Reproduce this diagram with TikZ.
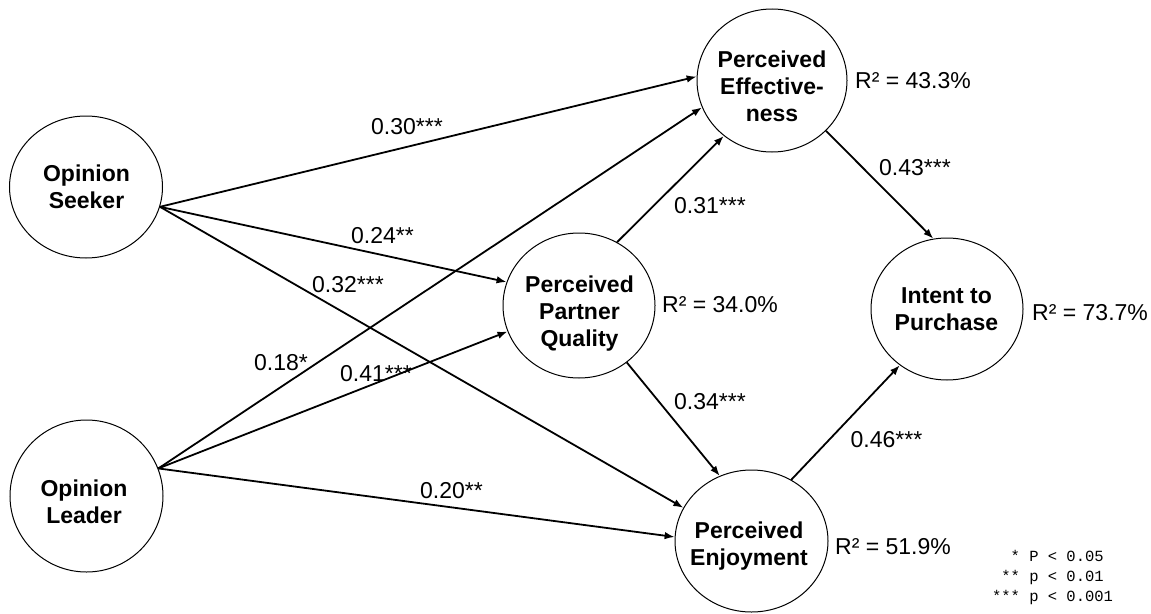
\documentclass[tikz,border=0pt]{standalone}
\usepackage{fontspec}
\setmainfont{Liberation Sans}
\setmonofont{Liberation Mono}
\usetikzlibrary{shapes.geometric,arrows.meta}
\begin{document}
\begin{tikzpicture}[x=1pt,y=-1pt,
  construct/.style={draw=black, line width=1pt, ellipse, inner sep=0pt},
  nodetext/.style={align=center, font=\fontsize{23}{27}\selectfont\bfseries, inner sep=0pt},
  coef/.style={font=\fontsize{23}{27}\selectfont, inner sep=0pt},
  rsq/.style={font=\fontsize{23}{27}\selectfont, inner sep=0pt, anchor=west},
  link/.style={line width=1.8pt, -{Latex[length=10pt,width=7.5pt]}},
  legendtext/.style={font=\fontsize{15.5}{20}\selectfont\ttfamily, align=left, inner sep=0pt}
]
\useasboundingbox (0,0) rectangle (1151,613);

% constructs
\node[construct, minimum width=153pt, minimum height=142pt] (seeker) at (86,187) {};
\node[nodetext] (seekerT) at (86.5,187) {Opinion\\Seeker};
\node[construct, minimum width=153pt, minimum height=152pt] (leader) at (86.5,496) {};
\node[nodetext] (leaderT) at (84,501.5) {Opinion\\Leader};
\node[construct, minimum width=150pt, minimum height=143pt] (eff) at (772,80.5) {};
\node[nodetext] (effT) at (772,86.5) {Perceived\\Effective-\\ness};
\node[construct, minimum width=152pt, minimum height=145pt] (pq) at (579,305.5) {};
\node[nodetext] (pqT) at (579.5,314) {Perceived\\Partner\\Quality};
\node[construct, minimum width=153pt, minimum height=142pt] (enj) at (751.5,541) {};
\node[nodetext] (enjT) at (749,546) {Perceived\\Enjoyment};
\node[construct, minimum width=152pt, minimum height=142pt] (ip) at (947,309) {};
\node[nodetext] (ipT) at (946.5,309.5) {Intent to\\Purchase};

% paths
\draw[link] (seeker.-15) -- (eff.177);
\draw[link] (seeker.-15) -- (pq.162.6);
\draw[link] (seeker.-15) -- (enj.154.3);
\draw[link] (leader.21) -- (eff.201);
\draw[link] (leader.21) -- (pq.200.9);
\draw[link] (leader.21) -- (enj.177);
\draw[link] (pq.59.4) -- (eff.229);
\draw[link] (pq.-50.2) -- (enj.116.4);
\draw[link] (eff.-43.7) -- (ip.101.6);
\draw[link] (enj.57.3) -- (ip.230.9);

% coefficients
\node[coef] (c1) at (407,127) {0.30***};
\node[coef] (c2) at (382.5,235.5) {0.24**};
\node[coef] (c3) at (348,284.5) {0.32***};
\node[coef] (c4) at (281,363) {0.18*};
\node[coef] (c5) at (376,374) {0.41***};
\node[coef] (c6) at (451.5,491) {0.20**};
\node[coef] (c7) at (710,206) {0.31***};
\node[coef] (c8) at (710,402) {0.34***};
\node[coef] (c9) at (915,167.5) {0.43***};
\node[coef] (c10) at (886.5,440) {0.46***};

% R squared
\node[rsq] (r1) at (855,80.5) {R² = 43.3\%};
\node[rsq] (r2) at (662,305) {R² = 34.0\%};
\node[rsq] (r3) at (1032,312.5) {R² = 73.7\%};
\node[rsq] (r4) at (835,547) {R² = 51.9\%};

% legend
\node[legendtext] (legend) at (1052.5,577) {\phantom{**}* P < 0.05\\\phantom{*}** p < 0.01\\{}*** p < 0.001};
\end{tikzpicture}
\end{document}
